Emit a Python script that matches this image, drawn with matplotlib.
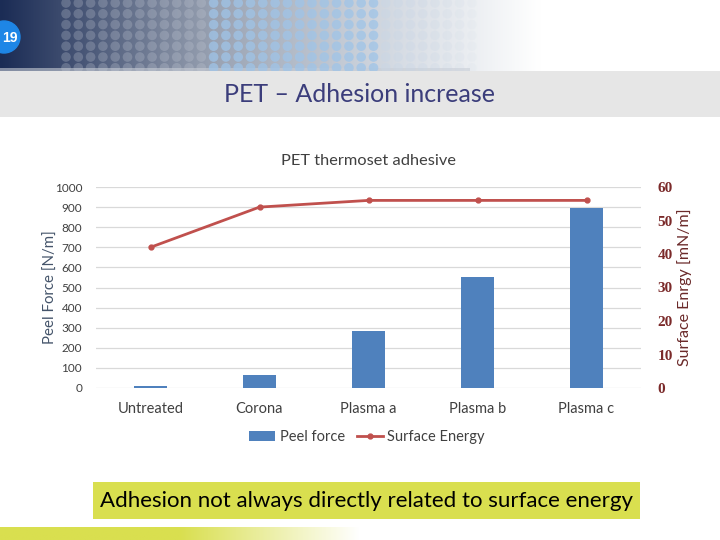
import numpy as np
import matplotlib.pyplot as plt
from matplotlib.patches import Rectangle, Circle
from matplotlib.colors import LinearSegmentedColormap

plt.rcParams['font.family'] = ['Lato', 'DejaVu Sans']

categories = ['Untreated', 'Corona', 'Plasma a', 'Plasma b', 'Plasma c']
peel_force = [10, 65, 285, 553, 895]        # N/m
surface_energy = [42, 54, 56, 56, 56]       # mN/m

W, H = 720, 540
fig = plt.figure(figsize=(7.2, 5.4), dpi=100)

# background layer in pixel coords
bg = fig.add_axes([0, 0, 1, 1])
bg.set_xlim(0, W)
bg.set_ylim(H, 0)
bg.axis('off')

# header gradient navy -> white
hdr = LinearSegmentedColormap.from_list(
    'hdr', [(0, '#1b2c55'), (0.12, '#4a5878'), (0.3, '#9aa3b3'),
            (0.55, '#d5dbe3'), (0.75, '#ffffff'), (1, '#ffffff')])
grad = np.linspace(0, 1, 256)[None, :]
bg.imshow(grad, cmap=hdr, extent=[0, W, 71, 0], aspect='auto', zorder=0)
bg.add_patch(Rectangle((0, 68), 470, 3, color='#c9ced6', lw=0, alpha=0.6, zorder=1))

# dot pattern on header
xs = np.arange(66, 480, 12.3)
ys = np.arange(3, 70, 10.8)
for yy in ys:
    for xx in xs:
        t = (xx - 66) / 410
        if t < 0.35:
            c, a = '#c4cad6', 0.28
        elif t < 0.75:
            c, a = '#9fc4e8', 0.75
        else:
            c, a = '#c9d6e6', 0.5 * (1 - (t - 0.75) / 0.3)
        bg.add_patch(Circle((xx, yy), 4.8, color=c, alpha=max(a, 0.04), lw=0, zorder=1))

# slide number
bg.add_patch(Circle((4, 37), 16, color='#1e86e6', zorder=3))
bg.text(10, 38, '19', color='white', fontsize=10, fontweight='bold',
        ha='center', va='center', family=['Liberation Sans'], zorder=4)

# title band
bg.add_patch(Rectangle((0, 71), W, 46, color='#e6e6e6', lw=0, zorder=1))
bg.text(360, 95, 'PET – Adhesion increase', color='#3b3d7b', fontsize=18,
        ha='center', va='center', zorder=2)

# bottom note box
bg.add_patch(Rectangle((93, 482), 547, 37, color='#d9df4f', lw=0, zorder=1))
bg.text(366, 501, 'Adhesion not always directly related to surface energy',
        color='black', fontsize=16, ha='center', va='center', zorder=2)

# bottom strip gradient
strip = LinearSegmentedColormap.from_list('strip', ['#d9df4f', '#d9df4f', '#ffffff'])
bg.imshow(np.linspace(0, 1, 256)[None, :], cmap=strip, extent=[0, 360, H, 527],
          aspect='auto', zorder=1)

# chart
ax = fig.add_axes([96 / W, 1 - 388 / H, 545 / W, 201 / H])
x = np.arange(len(categories))
ax.bar(x, peel_force, width=0.3, color='#4f81bd', label='Peel force', zorder=2)
ax.set_xlim(-0.5, 4.5)
ax.set_ylim(0, 1000)
ax.set_yticks(np.arange(0, 1001, 100))
ax.yaxis.grid(True, color='#d9d9d9', lw=0.9, zorder=0)
ax.set_axisbelow(True)
for s in ax.spines.values():
    s.set_visible(False)
ax.tick_params(axis='y', length=0, labelsize=8.5, labelcolor='#404040', pad=10)
ax.tick_params(axis='x', length=0, labelsize=10.5, labelcolor='#404040', pad=10)
ax.set_xticks(x)
ax.set_xticklabels(categories)
ax.set_ylabel('Peel Force [N/m]', fontsize=10.8, color='#44546a', labelpad=-2)

ax2 = ax.twinx()
ax2.plot(x, surface_energy, color='#c0504d', lw=2, marker='o', ms=3.5,
         label='Surface Energy', zorder=3)
ax2.set_ylim(0, 60)
ax2.set_yticks(np.arange(0, 61, 10))
for s in ax2.spines.values():
    s.set_visible(False)
ax2.tick_params(axis='y', length=0, labelsize=11, labelcolor='#7b2a2a', pad=12)
for lab in ax2.get_yticklabels():
    lab.set_family(['Liberation Serif'])
    lab.set_fontweight('bold')
ax2.set_ylabel('Surface Enrgy [mN/m]', fontsize=11.5, color='#6b2a2a', labelpad=3)

ax.set_title('PET thermoset adhesive', fontsize=11.8, color='#404040', pad=16)

h1, l1 = ax.get_legend_handles_labels()
h2, l2 = ax2.get_legend_handles_labels()
fig.legend(h1 + h2, l1 + l2, loc='center', bbox_to_anchor=(367 / W, 1 - 437 / H),
           ncol=2, frameon=False, fontsize=10.5, labelcolor='#404040',
           handlelength=1.8, handletextpad=0.3, columnspacing=0.8)

fig.savefig('out.png', dpi=100)
